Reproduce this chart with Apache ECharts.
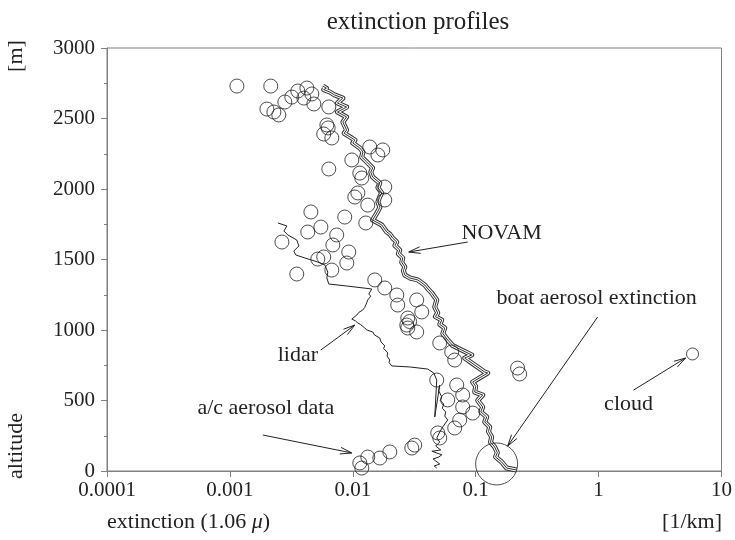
<!DOCTYPE html>
<html><head><meta charset="utf-8">
<script src="https://cdn.jsdelivr.net/npm/echarts@6/dist/echarts.min.js"></script>
<style>html,body{margin:0;padding:0;background:#fff}#c{width:735px;height:540px}</style>
</head><body><div id="c"></div>
<script>
// ---- data ----
const xTicks = [0.0001, 0.001, 0.01, 0.1, 1, 10];
const xTickLabels = ['0.0001', '0.001', '0.01', '0.1', '1', '10'];
const yTicks = [0, 500, 1000, 1500, 2000, 2500, 3000];

const aircraftData = [
 [0.00114,2730],[0.00215,2730],[0.0028,2617],[0.00319,2652],[0.00357,2695],[0.00423,2716],[0.0040,2645],[0.00464,2674],[0.00482,2603],
 [0.0020,2567],[0.00228,2546],[0.0025,2525],[0.00638,2582],[0.00615,2454],[0.0063,2433],[0.0058,2390],[0.00675,2362],[0.00638,2142],[0.00456,1837],
 [0.00982,2206],[0.01374,2298],[0.01754,2277],[0.016,2241],[0.0114,2113],[0.01184,2078],[0.0182,2014],[0.011,1972],[0.01038,1943],[0.0182,1922],[0.01324,1886],
 [0.0086,1801],[0.01276,1759],[0.0074,1674],[0.00688,1603],[0.00927,1553],[0.00894,1475],[0.00675,1425],[0.0043,1695],[0.0055,1730],[0.00265,1624],[0.00519,1503],[0.0058,1518],[0.0035,1397],
 [0.0151,1355],[0.0182,1298],[0.0228,1248],[0.0232,1177],[0.0331,1213],[0.0364,1128],[0.028,1085],[0.029,1060],[0.0275,1035],[0.028,1014],[0.0331,986],
 [0.051,908],[0.0638,844],[0.0675,787],[0.0482,645],[0.0701,610],[0.0784,539],[0.0592,504],[0.0784,454],[0.0946,411],[0.0741,362],[0.0675,305],[0.0491,270],[0.051,234],
 [0.0319,184],[0.0302,163],[0.02,135],[0.0166,92],[0.01324,99],[0.0114,57],[0.01184,21],
 [0.219,730],[0.228,688]
];
const cloudData = [[5.81,830]];
const boatData = [[0.148,50]];

const novamData = [
 [0.0057,2730],[0.0061,2715],[0.0058,2705],[0.0065,2688],[0.0071,2667],[0.0083,2645],[0.0075,2610],[0.0089,2581],[0.0075,2546],[0.0089,2511],[0.0083,2475],
 [0.0089,2418],[0.0085,2395],[0.0095,2369],[0.0104,2347],[0.0100,2326],[0.0114,2291],[0.0121,2262],[0.0118,2227],[0.0130,2191],[0.0145,2149],[0.0140,2120],
 [0.0145,2085],[0.0166,2042],[0.0160,2010],[0.0172,1972],[0.0165,1940],[0.0160,1908],[0.0166,1870],[0.0157,1830],[0.0145,1780],[0.0172,1745],[0.0189,1695],
 [0.0200,1680],[0.0211,1652],[0.0228,1624],[0.0220,1600],[0.0241,1567],[0.0235,1540],[0.0255,1511],[0.0250,1480],[0.0265,1447],[0.0258,1420],[0.0265,1390],
 [0.0291,1369],[0.0338,1355],[0.0385,1319],[0.0410,1290],[0.0439,1262],[0.0482,1213],[0.0464,1163],[0.0491,1121],[0.0470,1095],[0.0529,1071],[0.0510,1040],
 [0.0560,1014],[0.0540,975],[0.0592,929],[0.0650,890],[0.0769,858],[0.0928,823],[0.0814,801],[0.0950,760],[0.1184,702],[0.1252,695],[0.0945,631],[0.1000,600],
 [0.0981,560],[0.1140,539],[0.1038,500],[0.1140,454],[0.1100,420],[0.1229,383],[0.1184,348],[0.1300,312],[0.1270,280],[0.1349,241],[0.1320,205],[0.1427,170],
 [0.1500,130],[0.1450,100],[0.1627,64],[0.1786,21],[0.2154,7]
];

const lidarData = [
 [0.00246,1759],[0.00291,1738],[0.00275,1702],[0.00296,1674],[0.00350,1638],[0.00364,1596],[0.00331,1560],[0.00344,1532],[0.00407,1511],[0.00519,1482],
 [0.00592,1461],[0.00626,1411],[0.00615,1369],[0.00638,1326],[0.00894,1312],[0.01427,1291],[0.0135,1255],[0.0140,1240],[0.01324,1213],[0.01276,1177],
 [0.0125,1160],[0.01206,1142],[0.0112,1125],[0.01078,1106],[0.00981,1078],[0.0105,1065],[0.01098,1050],[0.0115,1040],[0.01252,1014],[0.0130,1000],
 [0.01454,986],[0.0150,965],[0.01658,943],[0.0170,915],[0.0182,887],[0.0178,870],[0.01926,837],[0.0190,815],[0.0200,787],[0.0197,770],[0.02076,745],
 [0.02906,738],[0.0407,723],[0.04556,695],[0.04819,645],[0.04642,383],[0.05097,610],[0.0500,570],[0.0529,525],[0.0515,500],[0.05494,475],[0.0535,445],
 [0.05703,418],[0.0560,390],[0.05921,362],[0.0539,312],[0.05097,277],[0.04819,234],[0.05097,206],[0.04729,177],[0.05193,149],[0.04400,140],[0.04556,128],
 [0.05300,115],[0.05002,99],[0.04500,85],[0.04729,71],[0.05097,50],[0.04600,35],[0.04819,21]
];

const annotations = [
 {text:'NOVAM', at:[0.1627,1688], from:[0.0861,1624], to:[0.02853,1553]},
 {text:'boat aerosol extinction', at:[0.963,1227], from:[0.9815,1092], to:[0.182,177]},
 {text:'lidar', at:[0.00357,823], from:[0.00549,858], to:[0.01038,1035]},
 {text:'a/c aerosol data', at:[0.00196,447], from:[0.001855,255], to:[0.00981,128]},
 {text:'cloud', at:[1.753,475], from:[1.926,574], to:[5.097,801]}
];

// ---- chart ----
const FONT = '"Liberation Serif","Times New Roman",serif';
const TXT = '#222';
const AX = '#808080';
const chart = echarts.init(document.getElementById('c'), null, {renderer:'canvas'});

function fmtX(v){
  const e = Math.round(Math.log10(v));
  const i = xTicks.findIndex(t => Math.round(Math.log10(t)) === e);
  return i >= 0 ? xTickLabels[i] : '';
}

const option = {
  animation: false,
  backgroundColor: '#fff',
  grid: {left:107, right:13, top:48, bottom:69, show:true, borderColor:AX, borderWidth:1, backgroundColor:'transparent'},
  xAxis: {
    type:'log', logBase:10, min:xTicks[0], max:xTicks[xTicks.length-1],
    axisLine:{show:true, lineStyle:{color:AX, width:1}},
    axisTick:{show:true, length:6, lineStyle:{color:AX}},
    minorTick:{show:false},
    splitLine:{show:false},
    axisLabel:{formatter:fmtX, color:TXT, fontFamily:FONT, fontSize:21, margin:9}
  },
  yAxis: {
    type:'value', min:yTicks[0], max:yTicks[yTicks.length-1], interval:500,
    axisLine:{show:true, lineStyle:{color:AX, width:1}},
    axisTick:{show:true, length:6, lineStyle:{color:AX}},
    minorTick:{show:true, splitNumber:2, length:3, lineStyle:{color:AX}},
    splitLine:{show:false},
    axisLabel:{formatter: v => String(v), color:TXT, fontFamily:FONT, fontSize:21, margin:12}
  },
  series: [
    {type:'line', data:lidarData, symbol:'none', z:2, lineStyle:{color:'#222', width:1, join:'round'}},
    {type:'line', data:novamData, symbol:'none', z:3, lineStyle:{color:'#333', width:5, join:'round'}},
    {type:'line', data:novamData, symbol:'none', z:4, lineStyle:{color:'#fff', width:3, join:'round'}},
    {type:'line', data:novamData, symbol:'none', z:5, lineStyle:{color:'#333', width:1, join:'round'}},
    {type:'scatter', data:aircraftData, symbol:'circle', symbolSize:14, z:6,
      itemStyle:{color:'transparent', borderColor:'#222', borderWidth:1}},
    {type:'scatter', data:cloudData, symbol:'circle', symbolSize:12, z:6,
      itemStyle:{color:'transparent', borderColor:'#222', borderWidth:1}},
    {type:'scatter', data:boatData, symbol:'circle', symbolSize:42, z:6,
      itemStyle:{color:'transparent', borderColor:'#222', borderWidth:1}}
  ]
};
chart.setOption(option);

function textEl(x, y, text, size, extra){
  return Object.assign({type:'text', x:x, y:y, z:100, style:{
    text:text, font:size + 'px ' + FONT, fill:TXT,
    textAlign:'center', align:'center', textVerticalAlign:'middle', verticalAlign:'middle'
  }}, extra || {});
}

const els = [];
els.push(textEl(418, 22, 'extinction profiles', 25));
els.push(textEl(16, 56, '[m]', 22, {rotation:Math.PI/2}));
els.push(textEl(16, 446, 'altitude', 22, {rotation:Math.PI/2}));
els.push({type:'text', x:107, y:522, z:100, style:{
  text:'{a|extinction (1.06 }{b|μ}{a|)}', fill:TXT, textAlign:'left', align:'left', textVerticalAlign:'middle', verticalAlign:'middle',
  rich:{a:{fontFamily:FONT, fontSize:22, color:TXT}, b:{fontFamily:FONT, fontSize:22, fontStyle:'italic', color:TXT}}
}});
els.push({type:'text', x:722, y:522, z:100, style:{text:'[1/km]', font:'22px ' + FONT, fill:TXT, textAlign:'right', align:'right', textVerticalAlign:'middle', verticalAlign:'middle'}});

annotations.forEach(a => {
  const t = chart.convertToPixel({gridIndex:0}, a.at);
  const f = chart.convertToPixel({gridIndex:0}, a.from);
  const p = chart.convertToPixel({gridIndex:0}, a.to);
  els.push(textEl(t[0], t[1], a.text, 22));
  els.push({type:'line', z:100, shape:{x1:f[0], y1:f[1], x2:p[0], y2:p[1]}, style:{stroke:'#222', lineWidth:1}});
  const ang = Math.atan2(f[1]-p[1], f[0]-p[0]);
  const L = 12, h = 0.28;
  els.push({type:'polyline', z:100, shape:{points:[
    [p[0] + L*Math.cos(ang+h), p[1] + L*Math.sin(ang+h)], [p[0], p[1]],
    [p[0] + L*Math.cos(ang-h), p[1] + L*Math.sin(ang-h)]
  ]}, style:{stroke:'#222', lineWidth:1, fill:null}});
});
chart.setOption({graphic:{elements:els}});
</script>
</body></html>
